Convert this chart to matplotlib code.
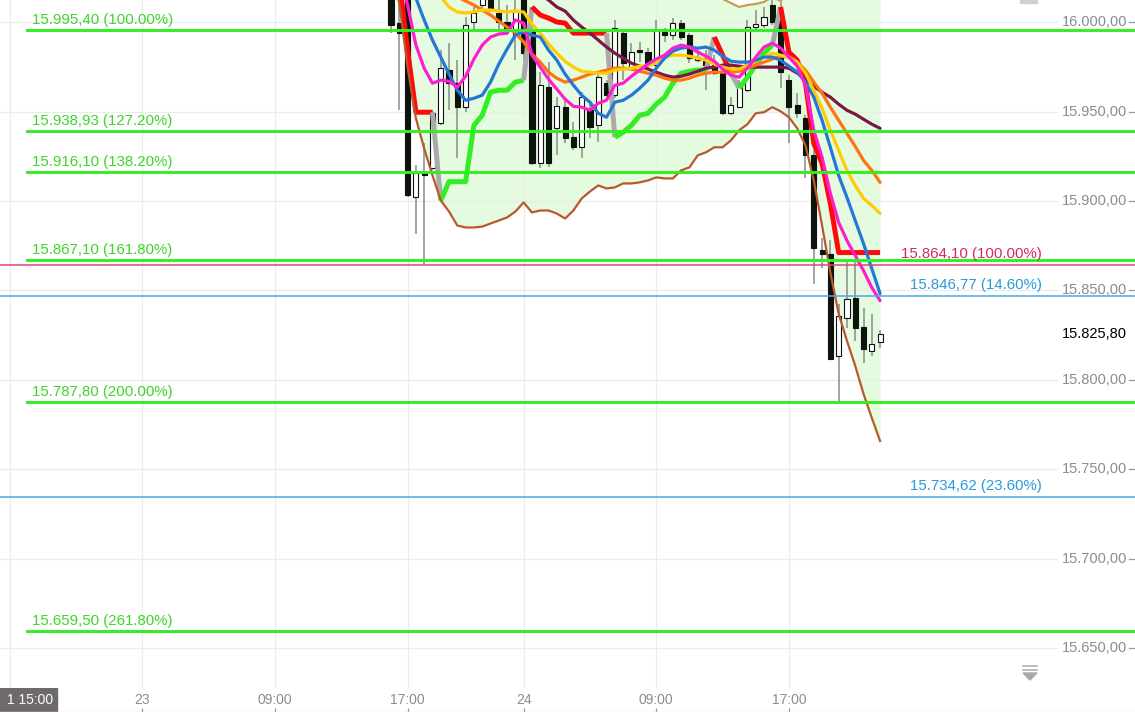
"""DAX 30-min chart with fib levels, moving averages and supertrend stop."""
import numpy as np
import matplotlib
matplotlib.use("Agg")
import matplotlib.pyplot as plt
import matplotlib.transforms as mtransforms
from matplotlib.patches import Rectangle, Polygon
from matplotlib.lines import Line2D

plt.rcParams["font.family"] = ["Liberation Sans", "DejaVu Sans"]

W, H = 1135, 712

# ---- OHLC (30-min bars) ----
opens = [16017.9, 15999.4, 16015.0, 15902.0, 15916.0, 15918.2, 15943.4, 15973.1, 15965.8, 15952.4,
         16000.0, 16009.5, 16014.0, 16005.0, 16000.0, 15992.7, 16013.4, 15995.5, 15921.0, 15963.6,
         15940.6, 15952.4, 15935.6, 15930.0, 15950.7, 15942.3, 15965.8, 15959.1, 15993.8, 15974.8,
         15984.3, 15983.2, 15975.9, 15994.4, 15992.7, 15999.4, 15992.7, 15978.7, 15979.8, 15975.9,
         15972.0, 15949.0, 15952.4, 15961.9, 15997.2, 15998.3, 16009.5, 16001.1, 15967.5, 15953.5,
         15946.2, 15925.5, 15872.8, 15870.6, 15813.5, 15834.7, 15845.9, 15829.7, 15816.3, 15821.3]
highs = [16023.5, 16015.1, 16018.0, 15919.9, 15932.2, 15950.7, 15984.3, 15988.2, 15978.7, 16002.8,
         16009.5, 16017.9, 16017.9, 16012.3, 16009.5, 16015.1, 16016.8, 15998.3, 15972.0, 15977.6,
         15958.0, 15956.3, 15944.0, 15960.8, 15954.6, 15972.0, 15967.5, 16001.1, 15995.5, 15988.2,
         15988.8, 15985.4, 16001.1, 15996.6, 16002.2, 16001.1, 15993.8, 15984.3, 15984.3, 15981.5,
         15974.2, 15958.0, 15967.5, 16001.1, 16006.7, 16008.4, 16014.0, 16011.2, 15970.3, 15960.2,
         15947.9, 15928.3, 15879.6, 15878.4, 15842.6, 15866.7, 15866.7, 15840.3, 15837.0, 15828.0]
lows = [15993.8, 15950.7, 15902.0, 15881.8, 15865.0, 15917.1, 15942.3, 15950.7, 15923.8, 15949.6,
        15995.5, 16007.8, 16005.6, 15995.5, 15992.7, 15978.7, 15978.7, 15919.9, 15918.2, 15918.8,
        15925.5, 15932.2, 15928.3, 15923.8, 15935.0, 15932.8, 15956.3, 15957.4, 15967.5, 15973.1,
        15977.6, 15974.2, 15970.3, 15988.8, 15989.9, 15989.9, 15977.0, 15977.6, 15961.9, 15970.3,
        15947.9, 15947.9, 15951.8, 15960.8, 15995.5, 15996.6, 15998.3, 15963.0, 15932.2, 15946.2,
        15912.6, 15853.8, 15862.7, 15811.8, 15787.1, 15829.1, 15821.9, 15809.5, 15813.5, 15818.0]
closes = [15998.3, 15993.8, 15903.1, 15915.4, 15914.3, 15949.0, 15974.2, 15965.8, 15952.4, 15998.3,
          16005.0, 16015.1, 16007.8, 16000.0, 15996.6, 16006.7, 15982.6, 15921.0, 15964.7, 15921.0,
          15952.9, 15935.0, 15930.0, 15958.0, 15941.2, 15969.2, 15959.1, 15996.6, 15977.0, 15983.2,
          15983.2, 15975.9, 15995.5, 15992.7, 15999.4, 15991.6, 15979.8, 15980.4, 15975.9, 15971.4,
          15949.0, 15953.5, 15965.8, 15997.2, 15998.9, 16002.8, 16000.0, 15972.0, 15952.4, 15949.0,
          15925.5, 15874.0, 15870.6, 15811.8, 15835.9, 15845.4, 15829.1, 15817.4, 15820.2, 15825.8]

# ---- indicator lines ----
ma_blue = [16037.5, 16029.1, 16020.7, 16013.4, 16001.1, 15989.9, 15980.4, 15970.9, 15961.9, 15956.3,
           15957.4, 15959.1, 15966.4, 15976.5, 15984.9, 15992.7, 15994.4, 15992.7, 15991.6, 15984.3,
           15978.7, 15970.9, 15964.7, 15959.1, 15955.2, 15949.0, 15946.8, 15955.2, 15956.3, 15959.1,
           15963.0, 15967.5, 15974.2, 15979.8, 15983.7, 15985.4, 15986.0, 15985.4, 15986.0, 15984.3,
           15980.9, 15978.1, 15977.6, 15977.6, 15978.7, 15980.4, 15980.4, 15978.7, 15975.3, 15972.0,
           15966.4, 15958.0, 15945.1, 15930.0, 15914.3, 15902.0, 15889.1, 15876.2, 15862.2, 15848.2]
ma_pink = [16040.3, 16026.3, 16009.5, 15987.1, 15974.2, 15965.8, 15967.5, 15966.9, 15963.6, 15969.7,
           15979.3, 15987.1, 15991.6, 15993.3, 15993.8, 16001.1, 15999.4, 15981.5, 15974.8, 15968.1,
           15962.5, 15956.9, 15952.9, 15952.4, 15950.7, 15954.6, 15956.3, 15964.7, 15965.8, 15969.7,
           15973.1, 15976.5, 15979.3, 15981.5, 15985.4, 15987.1, 15986.0, 15983.2, 15980.9, 15978.1,
           15973.7, 15970.3, 15969.2, 15974.2, 15980.4, 15986.0, 15988.2, 15985.4, 15980.4, 15975.3,
           15964.7, 15939.5, 15924.4, 15904.2, 15888.0, 15877.9, 15869.5, 15861.1, 15851.6, 15844.3]
ma_yellow = [16045.9, 16040.3, 16034.7, 16029.1, 16023.5, 16017.9, 16014.0, 16008.4, 16005.6, 16005.0,
             16005.6, 16006.7, 16006.7, 16006.1, 16005.6, 16006.1, 16005.6, 15998.9, 15993.8, 15987.7,
             15982.6, 15978.1, 15974.8, 15972.5, 15972.0, 15971.4, 15971.4, 15973.1, 15973.7, 15974.2,
             15975.3, 15975.9, 15977.0, 15980.4, 15981.5, 15981.5, 15980.9, 15979.8, 15978.7, 15976.5,
             15974.8, 15973.7, 15973.7, 15975.9, 15978.1, 15980.4, 15982.6, 15981.5, 15980.4, 15977.6,
             15971.4, 15961.9, 15951.8, 15939.5, 15928.3, 15917.1, 15908.7, 15901.4, 15897.5, 15893.0]
ma_orange = [16045.9, 16040.3, 16035.8, 16031.9, 16028.0, 16023.5, 16020.1, 16017.3, 16014.0, 16011.7,
             16009.5, 16006.7, 16003.9, 16000.5, 15997.2, 15993.8, 15988.8, 15982.1, 15977.6, 15972.0,
             15968.6, 15966.4, 15967.5, 15969.2, 15970.9, 15972.0, 15973.1, 15974.2, 15974.2, 15973.7,
             15972.5, 15971.4, 15970.3, 15968.6, 15967.5, 15967.5, 15968.6, 15970.3, 15971.4, 15972.0,
             15972.0, 15972.0, 15972.5, 15974.2, 15975.9, 15977.6, 15979.3, 15980.9, 15980.4, 15977.6,
             15973.1, 15966.4, 15960.2, 15952.4, 15945.1, 15937.8, 15930.5, 15922.7, 15917.1, 15910.4]
ma_maroon = [None, None, None, None, None, None, None, None, None, None,
             None, None, None, None, None, None, 16026.3, 16019.0, 16015.1, 16012.3,
             16008.4, 16006.1, 16001.1, 15997.2, 15993.8, 15989.9, 15986.0, 15982.6, 15979.8, 15977.0,
             15975.3, 15973.7, 15972.0, 15970.3, 15969.2, 15969.7, 15970.9, 15972.5, 15974.2, 15974.8,
             15975.9, 15975.9, 15975.3, 15974.8, 15974.8, 15974.8, 15974.8, 15974.8, 15974.2, 15971.4,
             15968.1, 15964.1, 15960.8, 15958.0, 15954.1, 15950.7, 15948.5, 15945.7, 15942.9, 15940.6]
band_low = [16026.3, 16010.6, 15974.8, 15946.2, 15929.4, 15914.3, 15900.3, 15894.1, 15886.3, 15885.2,
            15885.2, 15885.7, 15887.4, 15889.1, 15890.8, 15894.1, 15899.2, 15893.6, 15894.7, 15894.7,
            15893.0, 15890.2, 15894.7, 15901.4, 15905.3, 15908.7, 15907.0, 15907.6, 15909.8, 15909.8,
            15910.4, 15911.5, 15913.2, 15912.6, 15912.6, 15917.1, 15918.8, 15925.5, 15927.2, 15930.0,
            15930.0, 15933.9, 15939.5, 15942.9, 15949.0, 15949.6, 15952.4, 15950.1, 15946.8, 15940.6,
            15931.1, 15911.5, 15886.3, 15860.0, 15837.0, 15821.9, 15807.9, 15792.2, 15778.8, 15765.9]
band_up = [16095, 16098, 16100, 16102, 16100, 16097, 16092, 16088, 16083, 16078,
           16074, 16070, 16066, 16062, 16058, 16055, 16052, 16050, 16048, 16046,
           16044, 16042, 16040, 16038, 16036, 16034, 16032, 16031, 16030, 16029,
           16028, 16027, 16026, 16025, 16024, 16023, 16022, 16021, 16019, 16017.9,
           16012.9, 16010.6, 16008.4, 16009.5, 16010.1, 16011.2, 16014.0, 16011.7, 16016.8, 16025,
           16035, 16050, 16060, 16070, 16080, 16085, 16090, 16095, 16098, 16100]
stop_line = [16029.1, 16023.5, 15984.3, 15949.6, 15949.6, 15949.6, 15900.3, 15910.8, 15910.8, 15910.8,
             15942.3, 15947.9, 15960.8, 15961.9, 15961.9, 15966.4, 15967.5, 16008.4, 16003.9, 16002.2,
             16000.0, 15999.4, 15993.8, 15993.8, 15993.8, 15993.8, 15993.8, 15935.6, 15938.4, 15942.3,
             15947.9, 15949.0, 15954.1, 15958.0, 15965.8, 15971.4, 15972.5, 15973.1, 15973.1, 15991.6,
             15981.5, 15971.4, 15963.0, 15969.2, 15975.9, 15982.6, 15987.1, 16008.4, 15983.2, 15978.7,
             15965.8, 15932.2, 15921.0, 15898.6, 15871.2, 15871.2, 15871.2, 15871.2, 15871.2, 15871.2]
stop_dir = [-1] * 6 + [1] * 11 + [-1] * 10 + [1] * 12 + [-1] * 3 + [1] * 5 + [-1] * 13

# ---- fibonacci levels ----
fib_green = [15995.40, 15938.93, 15916.10, 15867.10, 15787.80, 15659.50]
fib_green_pct = ["100.00%", "127.20%", "138.20%", "161.80%", "200.00%", "261.80%"]
fib_red = [15864.10]
fib_red_pct = ["100.00%"]
fib_blue = [15846.77, 15734.62]
fib_blue_pct = ["14.60%", "23.60%"]

y_ticks = [16000, 15950, 15900, 15850, 15800, 15750, 15700, 15650]
x_grid = [-46, -30, -14, 2, 16, 32, 48]
x_ticks = [-30, -14, 2, 16, 32, 48]
x_labels = ["23", "09:00", "17:00", "24", "09:00", "17:00"]
cursor_label = "1 15:00"

C_GREEN, C_GREEN_TXT = "#33ee22", "#3fd42a"
C_RED_LINE, C_RED_TXT = "#e0457a", "#d42a5a"
C_BLUE_LINE, C_BLUE_TXT = "#4aa8e6", "#2a9ad8"
C_AXIS = "#8c8c8c"


def de(v):
    s = f"{v:,.2f}"
    return s.replace(",", "#").replace(".", ",").replace("#", ".")


x = np.arange(len(closes), dtype=float)
as_arr = lambda a: np.array([np.nan if v is None else v for v in a], dtype=float)

fig = plt.figure(figsize=(W / 100, H / 100), dpi=100)
ax = fig.add_axes([0, 24 / H, 1, 688 / H])
ax.set_xlim(-47.17, 89.75)
ax.set_ylim(15627.9, 16012.3)
ax.axis("off")
yblend = mtransforms.blended_transform_factory(ax.transAxes, ax.transData)

# grid
for p in y_ticks:
    ax.axhline(p, xmin=0, xmax=1057 / W, color="#ebebeb", lw=0.9, zorder=1)
    ax.plot([1129 / W, 1135 / W], [p, p], transform=yblend, color="#999999", lw=0.9)
    ax.text(1127 / W, p, de(p), transform=yblend, ha="right", va="center",
            color=C_AXIS, fontsize=10.5)
for t in x_grid:
    ax.axvline(t, color="#ececec", lw=0.9, zorder=1)

# band fill + band lines
ax.fill_between(x, band_low, band_up, color="#e4fbdf", lw=0, zorder=0.5)

# candles
for i in range(len(x)):
    o, h, l, c = opens[i], highs[i], lows[i], closes[i]
    ax.vlines(x[i], l, h, color="#8a8a8a", lw=1.1, zorder=2)
    bull = c >= o
    ax.add_patch(Rectangle((x[i] - 0.31, min(o, c)), 0.62, max(abs(c - o), 0.6),
                           facecolor="white" if bull else "#0b160b",
                           edgecolor="#111111", lw=0.8, zorder=3))

# supertrend-style stop, coloured by direction, grey at flips
st = np.array(stop_line)
runs = []
for i in range(len(x) - 1):
    a, b = stop_dir[i], stop_dir[i + 1]
    col = ("#33ee22" if a > 0 else "#ff0a0a") if a == b else "#aaaaaa"
    if runs and runs[-1][0] == col:
        runs[-1][1].append(i + 1)
    else:
        runs.append([col, [i, i + 1]])
for col, idx in runs:
    ax.plot(x[idx], st[idx], color=col, lw=3.6, zorder=4, solid_capstyle="butt")

ax.plot(x, band_low, color="#b9582c", lw=1.6, zorder=5)
ax.plot(x, band_up, color="#c8a050", lw=1.6, zorder=5)
for arr, col in [(ma_maroon, "#7b1848"), (ma_orange, "#ff7411"), (ma_yellow, "#ffcc00"),
                 (ma_blue, "#2477d8"), (ma_pink, "#ff1ecf")]:
    ax.plot(x, as_arr(arr), color=col, lw=2.3, zorder=5, solid_capstyle="round")

# fib lines + labels
for p, pct in zip(fib_green, fib_green_pct):
    ax.axhline(p, xmin=27 / W, xmax=1, color=C_GREEN, lw=2.1, zorder=6)
    ax.annotate(f"{de(p)} ({pct})", xy=(32 / W, p), xycoords=yblend,
                xytext=(0, 3), textcoords="offset pixels", ha="left", va="bottom",
                color=C_GREEN_TXT, fontsize=10.8, zorder=7)
for levels, pcts, lc, tc in [(fib_red, fib_red_pct, C_RED_LINE, C_RED_TXT),
                             (fib_blue, fib_blue_pct, C_BLUE_LINE, C_BLUE_TXT)]:
    for p, pct in zip(levels, pcts):
        ax.axhline(p, color=lc, lw=1.1, zorder=6)
        ax.annotate(f"{de(p)} ({pct})", xy=(1042 / W, p), xycoords=yblend,
                    xytext=(0, 4), textcoords="offset pixels", ha="right", va="bottom",
                    color=tc, fontsize=10.8, zorder=7)

# last price on the axis
ax.text(1127 / W, closes[-1], de(closes[-1]), transform=yblend, ha="right", va="center",
        color="black", fontsize=10.5)

# time axis strip
axb = fig.add_axes([0, 0, 1, 24 / H])
axb.set_xlim(ax.get_xlim())
axb.set_ylim(0, 1)
axb.axis("off")
for t, lab in zip(x_ticks, x_labels):
    axb.text(t, 0.5, lab, ha="center", va="center", color=C_AXIS, fontsize=10)
    axb.vlines(t, 0, 0.17, color="#999999", lw=0.9)
axb.axhline(0.02, color="#e2e2e2", lw=1)
axb.add_patch(Rectangle((0, 0), 57 / W, 1, transform=axb.transAxes, color="#6e6a69"))
axb.text(53 / W, 0.5, cursor_label, transform=axb.transAxes, ha="right", va="center",
         color="white", fontsize=10)

# small ui glyphs
fx = lambda px: px / W
fy = lambda py: 1 - py / H
for yy in (666, 670):
    fig.add_artist(Line2D([fx(1023), fx(1037)], [fy(yy), fy(yy)], color="#b0b0b0", lw=1.2))
fig.add_artist(Polygon([[fx(1023), fy(673)], [fx(1037), fy(673)], [fx(1030), fy(680)]],
                       closed=True, color="#a8a8a8"))
fig.add_artist(Rectangle((fx(1020), fy(3)), 17 / W, 3 / H, color="#d0d0d0"))

fig.savefig("out.png", dpi=100)
